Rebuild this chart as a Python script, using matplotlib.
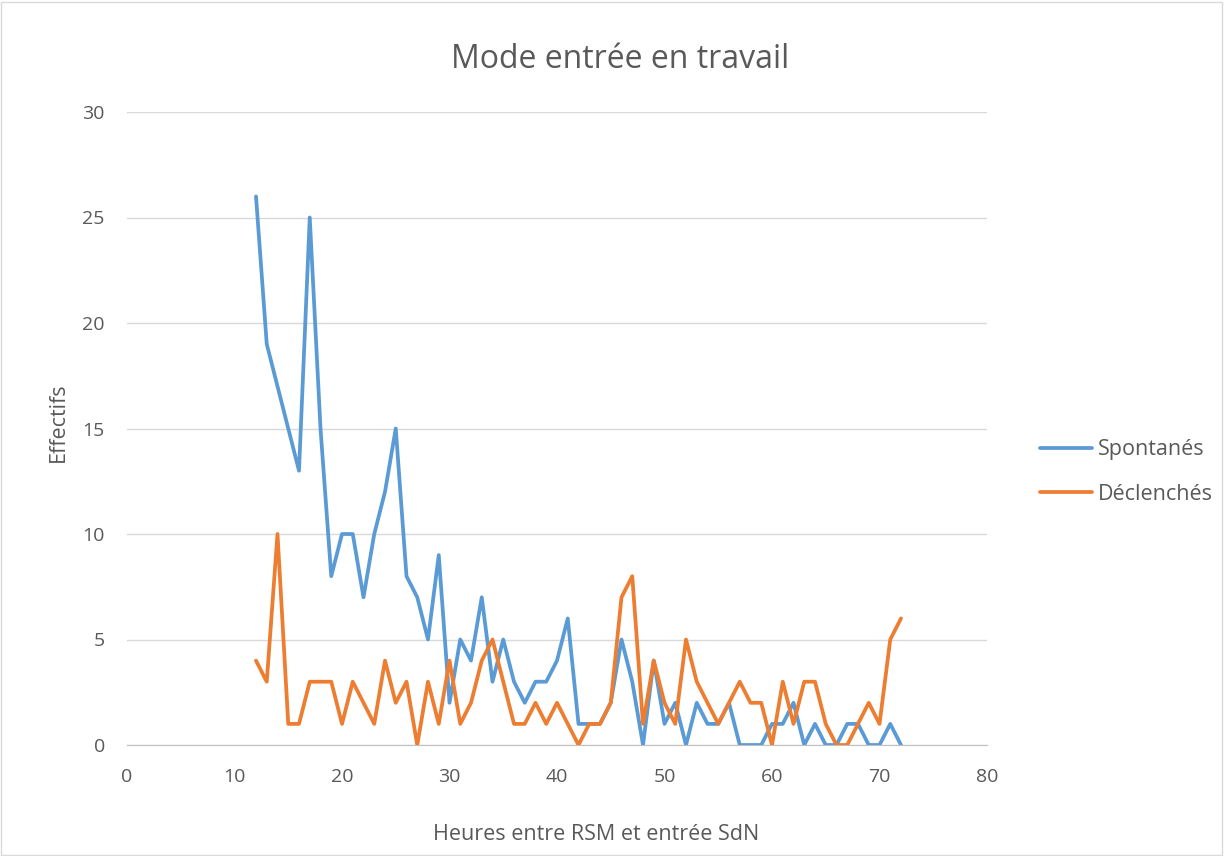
import matplotlib.pyplot as plt
from matplotlib.patches import Rectangle

heures = list(range(12, 73))
spontanes = [26, 19, 17, 15, 13, 25, 15, 8, 10, 10, 7, 10, 12, 15, 8, 7, 5, 9, 2, 5,
             4, 7, 3, 5, 3, 2, 3, 3, 4, 6, 1, 1, 1, 2, 5, 3, 0, 4, 1, 2,
             0, 2, 1, 1, 2, 0, 0, 0, 1, 1, 2, 0, 1, 0, 0, 1, 1, 0, 0, 1, 0]
declenches = [4, 3, 10, 1, 1, 3, 3, 3, 1, 3, 2, 1, 4, 2, 3, 0, 3, 1, 4, 1,
              2, 4, 5, 3, 1, 1, 2, 1, 2, 1, 0, 1, 1, 2, 7, 8, 1, 4, 2, 1,
              5, 3, 2, 1, 2, 3, 2, 2, 0, 3, 1, 3, 3, 1, 0, 0, 1, 2, 1, 5, 6]

plt.rcParams['font.family'] = ['Open Sans', 'DejaVu Sans']
gris = '#595959'

W, H = 1224, 856
fig = plt.figure(figsize=(W / 100, H / 100), dpi=100)
ax = fig.add_axes([127 / W, 1 - 745 / H, (987 - 127) / W, (745 - 112) / H])

# bordure de la zone de graphique
fig.patches.append(Rectangle((1 / W, 1 / H), 1 - 3 / W, 1 - 3 / H, transform=fig.transFigure,
                             fill=False, edgecolor='#D9D9D9', linewidth=1))

ax.plot(heures, spontanes, color='#5B9BD5', linewidth=2.7, label='Spontanés',
        solid_joinstyle='round', solid_capstyle='round')
ax.plot(heures, declenches, color='#ED7D31', linewidth=2.7, label='Déclenchés',
        solid_joinstyle='round', solid_capstyle='round')

ax.set_xlim(0, 80)
ax.set_ylim(0, 30)
ax.set_xticks(range(0, 81, 10))
ax.set_yticks(range(0, 31, 5))
ax.grid(axis='y', color='#D9D9D9', linewidth=1)
ax.set_axisbelow(True)
for s in ['top', 'right', 'left']:
    ax.spines[s].set_visible(False)
ax.spines['bottom'].set_color('#BFBFBF')
ax.tick_params(axis='x', length=0, labelsize=14, colors=gris, pad=16.5)
ax.tick_params(axis='y', length=0, labelsize=14, colors=gris, pad=16)

fig.text(620 / W, 1 - 68 / H, 'Mode entrée en travail', fontsize=23, color=gris,
         ha='center', va='baseline')
fig.text(596 / W, 1 - 840 / H, 'Heures entre RSM et entrée SdN', fontsize=15.5, color=gris,
         ha='center', va='baseline')
fig.text(58 / W, 1 - 422 / H, 'Effectifs', fontsize=15.5, color=gris,
         ha='center', va='center', rotation=90)

leg = fig.legend(loc='center left', bbox_to_anchor=(1040 / W, 1 - 472 / H), frameon=False,
                 fontsize=15.5, handlelength=2.4, labelspacing=1.1, handletextpad=0.3,
                 borderpad=0, borderaxespad=0)
for t in leg.get_texts():
    t.set_color(gris)

fig.savefig('out.png', dpi=100)
